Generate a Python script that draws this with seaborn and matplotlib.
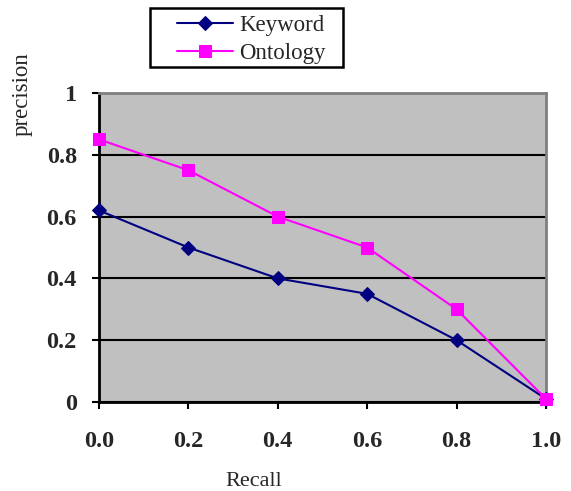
import matplotlib
matplotlib.use("Agg")
import matplotlib.pyplot as plt
import matplotlib.patches as mpatches
import seaborn as sns
import pandas as pd

recall = [0.0, 0.2, 0.4, 0.6, 0.8, 1.0]
keyword = [0.62, 0.50, 0.40, 0.35, 0.20, 0.01]
ontology = [0.85, 0.75, 0.60, 0.50, 0.30, 0.01]
series_names = ["Keyword", "Ontology"]
x_ticklabels = ["0.0", "0.2", "0.4", "0.6", "0.8", "1.0"]
y_ticks = [0, 0.2, 0.4, 0.6, 0.8, 1.0]
y_ticklabels = ["0", "0.2", "0.4", "0.6", "0.8", "1"]

sns.set_style("white")
plt.rcParams["font.family"] = ["Liberation Serif", "DejaVu Serif"]

fig = plt.figure(figsize=(5.71, 4.91), dpi=100)
ax = fig.add_axes([99/571, 1 - 402/491, 447/571, 309/491])
ax.set_facecolor("#C0C0C0")

df = pd.DataFrame({
    "Recall": recall * 2,
    "precision": keyword + ontology,
    "series": [series_names[0]] * len(recall) + [series_names[1]] * len(recall),
})

sns.lineplot(data=df[df.series == "Keyword"], x="Recall", y="precision", ax=ax,
             color="#000080", marker="D", markersize=7, linewidth=1.5,
             markeredgecolor="#000080", label="Keyword", clip_on=False, zorder=4)
sns.lineplot(data=df[df.series == "Ontology"], x="Recall", y="precision", ax=ax,
             color="#FF00FF", marker="s", markersize=9, linewidth=1.5,
             markeredgecolor="#FF00FF", label="Ontology", clip_on=False, zorder=5)

ax.set_xlim(0, 1)
ax.set_ylim(0, 1)
ax.set_xticks(recall)
ax.set_xticklabels(x_ticklabels, fontweight="bold", fontsize=17.5)
ax.set_yticks(y_ticks)
ax.set_yticklabels(y_ticklabels, fontweight="bold", fontsize=17.5)
ax.tick_params(axis="both", direction="out", length=5, width=1.5, color="black",
               bottom=True, left=True)
ax.tick_params(axis="y", pad=11)
ax.tick_params(axis="x", pad=16)

ax.grid(axis="y", color="black", linewidth=1.5)
ax.grid(axis="x", visible=False)
ax.set_axisbelow(True)

for s in ["left", "bottom"]:
    ax.spines[s].set_color("black")
    ax.spines[s].set_linewidth(2)
for s in ["top", "right"]:
    ax.spines[s].set_color("#808080")
    ax.spines[s].set_linewidth(2)
    ax.spines[s].set_visible(True)

ax.set_xlabel("Recall", fontsize=16)
ax.set_ylabel("precision", fontsize=16.5)
ax.xaxis.set_label_coords(0.347, -0.227)
ax.yaxis.set_label_coords(-0.148, 0.997)

ax.get_legend().remove()
handles, labels = ax.get_legend_handles_labels()

frame = mpatches.Rectangle((150/571, 1 - 67/491), 193/571, 59/491,
                           transform=fig.transFigure, facecolor="white",
                           edgecolor="black", linewidth=1.8, zorder=1)
fig.add_artist(frame)
leg = fig.legend(handles, labels, loc="upper left",
                 bbox_to_anchor=(177/571, 1 - 15/491), borderaxespad=0,
                 frameon=False, fontsize=16.5, handlelength=2.45,
                 handletextpad=0.28, borderpad=0, labelspacing=0.3)
leg.set_zorder(2)

fig.savefig("out.png", dpi=100)
